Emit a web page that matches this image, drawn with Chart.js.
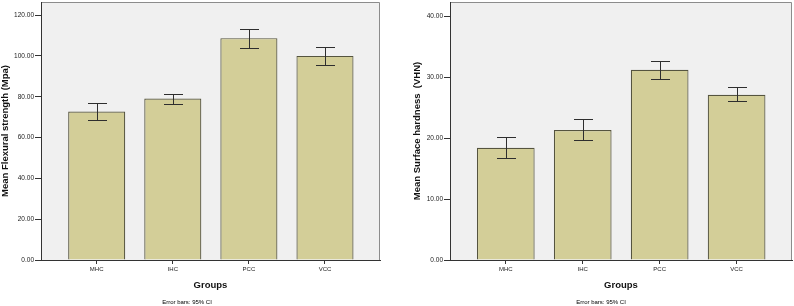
<!DOCTYPE html>
<html>
<head>
<meta charset="utf-8">
<script src="https://cdn.jsdelivr.net/npm/chart.js@4.4.1/dist/chart.umd.min.js"></script>
<style>
  body { margin: 0; background: #fff; width: 794px; height: 306px; overflow: hidden; position: relative;
         font-family: "Liberation Sans", Arial, sans-serif; }
  canvas { position: absolute; top: 0; }
  #flex { left: 0; }
  #hard { left: 397px; }
  .note { position: absolute; top: 299px; font-size: 6px; color: #000; white-space: nowrap; transform: translateX(-50%); }
</style>
</head>
<body>
<canvas id="flex" width="397" height="306"></canvas>
<canvas id="hard" width="397" height="306"></canvas>
<div class="note" style="left:187px">Error bars: 95% CI</div>
<div class="note" style="left:601px">Error bars: 95% CI</div>
<script>
const groups = ["MHC", "IHC", "PCC", "VCC"];

// flexural strength (Mpa), mean and 95% CI
const flexMean = [72.7, 79.1, 108.7, 100.0];
const flexLow  = [68.5, 76.6, 104.1, 95.7];
const flexHigh = [77.1, 81.5, 113.4, 104.4];
const flexTicks = [0, 20, 40, 60, 80, 100, 120];

// surface hardness (VHN), mean and 95% CI
const hardMean = [18.4, 21.3, 31.2, 27.1];
const hardLow  = [16.8, 19.6, 29.6, 26.0];
const hardHigh = [20.1, 23.1, 32.6, 28.3];
const hardTicks = [0, 10, 20, 30, 40];

const FONT = "'Liberation Sans', Arial, sans-serif";

function makeChart(id, cfg) {
  // grey plot background + light frame on top/right
  const plotFrame = {
    id: "plotFrame",
    beforeDraw(chart) {
      const { ctx, chartArea: a } = chart;
      ctx.save();
      ctx.fillStyle = "#f0f0f0";
      ctx.fillRect(a.left, a.top, a.width, a.height);
      ctx.strokeStyle = "#8c8c8c";
      ctx.lineWidth = 1;
      ctx.beginPath();
      ctx.moveTo(a.left, a.top + .5);
      ctx.lineTo(a.right - .5, a.top + .5);
      ctx.lineTo(a.right - .5, a.bottom);
      ctx.stroke();
      ctx.restore();
    },
  };

  // 95% CI whiskers
  const errorBars = {
    id: "errorBars",
    afterDatasetsDraw(chart) {
      const { ctx, scales: { x, y } } = chart;
      ctx.save();
      ctx.strokeStyle = "#2e2e2e";
      ctx.lineWidth = 1;
      cfg.lows.forEach((lo, i) => {
        const px = Math.round(x.getPixelForValue(i)) + .5;
        const yHi = Math.round(y.getPixelForValue(cfg.highs[i])) + .5;
        const yLo = Math.round(y.getPixelForValue(lo)) + .5;
        ctx.beginPath();
        ctx.moveTo(px, yHi); ctx.lineTo(px, yLo);
        ctx.moveTo(px - 9.5, yHi); ctx.lineTo(px + 9.5, yHi);
        ctx.moveTo(px - 9.5, yLo); ctx.lineTo(px + 9.5, yLo);
        ctx.stroke();
      });
      ctx.restore();
    },
  };

  return new Chart(document.getElementById(id), {
    type: "bar",
    data: {
      datasets: [{
        data: cfg.means.map((v, i) => ({ x: i, y: v })),
        backgroundColor: "#d3ce98",
        borderColor: "#55543f",
        borderWidth: 1.2,
        categoryPercentage: 1,
        barPercentage: 0.75,
      }],
    },
    options: {
      responsive: false,
      animation: false,
      devicePixelRatio: 1,
      layout: { padding: { left: 0, top: 2, right: cfg.padRight, bottom: 0 } },
      plugins: { legend: { display: false }, tooltip: { enabled: false } },
      scales: {
        x: {
          type: "linear",
          offset: false,
          min: cfg.xMin,
          max: cfg.xMax,
          afterBuildTicks: s => { s.ticks = groups.map((g, i) => ({ value: i })); },
          afterFit: s => { s.height = 46; s.paddingLeft = 0; s.paddingRight = 0; },
          grid: { offset: false, drawOnChartArea: false, drawTicks: true, tickLength: 4, tickColor: "#333" },
          border: { display: true, color: "#333" },
          ticks: { callback: v => groups[v], padding: 2, maxRotation: 0, autoSkip: false,
                   color: "#222", font: { family: FONT, size: 6 } },
          title: { display: true, text: "Groups", color: "#111", padding: { top: 0, bottom: 15 },
                   font: { family: FONT, size: 9.5, weight: "bold" } },
        },
        y: {
          min: 0,
          max: cfg.yMax,
          afterBuildTicks: s => { s.ticks = cfg.ticks.map(v => ({ value: v })); },
          afterFit: s => { s.width = cfg.yWidth; s.paddingTop = 0; s.paddingBottom = 0; },
          grid: { drawOnChartArea: false, drawTicks: true, tickLength: 6, tickColor: "#333" },
          border: { display: true, color: "#333" },
          ticks: { callback: v => v.toFixed(2), padding: 1, color: "#222",
                   font: { family: FONT, size: 6.5 } },
          title: { display: true, text: cfg.title, color: "#111", padding: { top: cfg.titlePad, bottom: 0 },
                   font: { family: FONT, size: 9.5, weight: "bold" } },
        },
      },
    },
    plugins: [plotFrame, errorBars],
  });
}

makeChart("flex", {
  means: flexMean, lows: flexLow, highs: flexHigh, ticks: flexTicks,
  yMax: 126.4, xMin: -0.732, xMax: 3.723,
  title: "Mean Flexural strength (Mpa)", yWidth: 41, titlePad: 0, padRight: 17,
});

makeChart("hard", {
  means: hardMean, lows: hardLow, highs: hardHigh, ticks: hardTicks,
  yMax: 42.3, xMin: -0.725, xMax: 3.72,
  title: "Mean Surface hardness  (VHN)", yWidth: 53, titlePad: 15, padRight: 2,
});
</script>
</body>
</html>
